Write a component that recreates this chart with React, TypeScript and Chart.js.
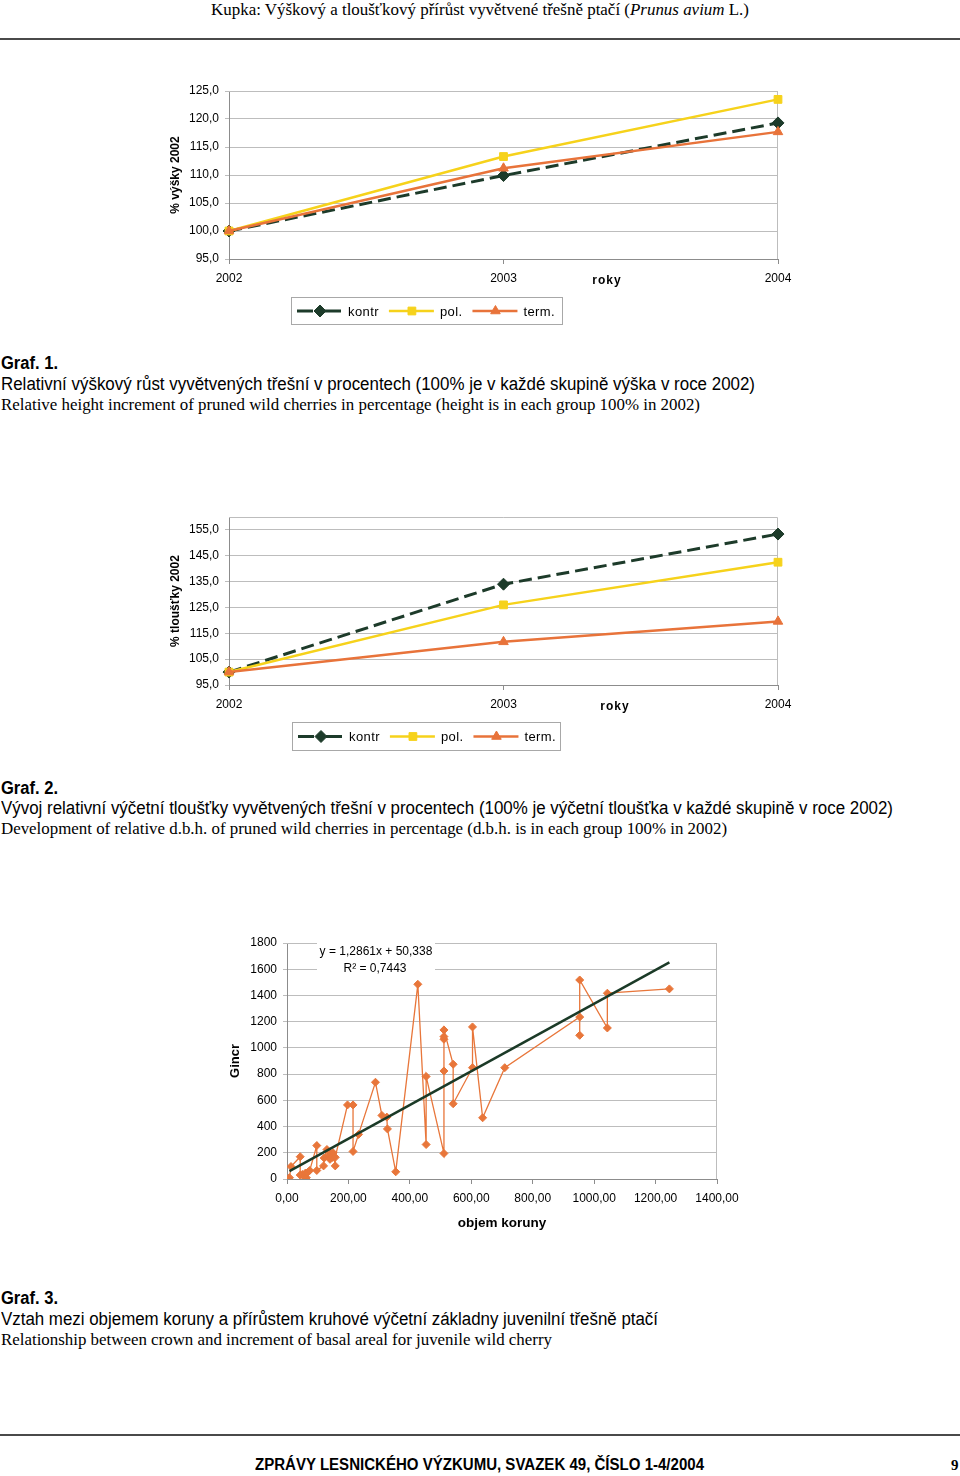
import React, { useEffect, useLayoutEffect, useRef } from 'react';
import { Chart, registerables } from 'chart.js';
import { drawPoint } from 'chart.js/helpers';

Chart.register(...registerables);

const SANS = '"Liberation Sans", Arial, Helvetica, sans-serif';
const NARROW = '"Liberation Sans Narrow", "Arial Narrow", "Liberation Sans", Arial, sans-serif';
const SERIF = '"Liberation Serif", "Times New Roman", Times, serif';

// ---------- data ----------
const years = ['2002', '2003', '2004'];
const seriesLabels = ['kontr', 'pol.', 'term.'];

const heightKontr = [100.0, 109.9, 119.3];
const heightPol = [100.0, 113.3, 123.5];
const heightTerm = [100.0, 111.2, 117.7];
const heightTicks = [95, 100, 105, 110, 115, 120, 125];

const dbhKontr = [100.0, 134.0, 153.4];
const dbhPol = [100.0, 126.0, 142.5];
const dbhTerm = [100.0, 111.7, 119.6];
const dbhTicks = [95, 105, 115, 125, 135, 145, 155];

const crownVolume = [
  8, 13, 43, 43, 50, 55, 60, 63, 67, 74,
  97, 97, 119, 121, 130, 135, 140, 143, 148, 150,
  157, 157, 197, 215, 215, 233, 288, 309, 325, 327,
  354, 426, 453, 453, 511, 511, 511, 511, 511, 541,
  541, 604, 604, 637, 709, 953, 953, 953, 1043, 1043,
  1245,
];
const gincr = [
  10, 95, 170, 30, 35, 20, 45, 10, 50, 65,
  255, 65, 100, 160, 225, 175, 150, 190, 165, 200,
  100, 165, 565, 565, 210, 340, 738, 485, 472, 382,
  55, 1485, 263, 782, 195, 824, 1066, 1086, 1137, 875,
  574, 849, 1160, 467, 849, 1235, 1096, 1518, 1152, 1417,
  1450,
];
const trendSlope = 1.2861;
const trendIntercept = 50.338;
const trendLabel = 'y = 1,2861x + 50,338';
const r2Label = 'R² = 0,7443';
const volumeTicks = [0, 200, 400, 600, 800, 1000, 1200, 1400];
const gincrTicks = [0, 200, 400, 600, 800, 1000, 1200, 1400, 1600, 1800];

// ---------- styles ----------
const KONTR = '#1d3b2a';
const POL = '#f6d21b';
const TERM = '#e8733a';
const GRID = '#bdbdbd';
const AXIS = '#8c8c8c';
const LEGEND_BORDER = '#a8a8a8';

const fmt1 = (v: number) => Number(v).toFixed(1).replace('.', ',');
const fmt2 = (v: number) => Number(v).toFixed(2).replace('.', ',');

type Area = { l: number; r: number; t: number; b: number };
type Box = { x: number; y: number; w: number; h: number };

function GrowthChart(props: {
  left: number; top: number; width: number; height: number; area: Area;
  series: number[][]; yMin: number; yMax: number; yTicks: number[]; yTitle: string;
  roky: [number, number]; legend: Box;
}) {
  const ref = useRef<HTMLCanvasElement>(null);
  useEffect(() => {
    const p = props;
    const styles = [
      { color: KONTR, width: 3, dash: [13, 6], point: 'rectRot', radius: 6 },
      { color: POL, width: 2.5, dash: [] as number[], point: 'rect', radius: 5.5 },
      { color: TERM, width: 2.5, dash: [] as number[], point: 'triangle', radius: 5.5 },
    ];
    const datasets = p.series.map((d, i) => ({
      label: seriesLabels[i],
      data: d,
      borderColor: styles[i].color,
      backgroundColor: styles[i].color,
      borderWidth: styles[i].width,
      borderDash: styles[i].dash,
      pointStyle: styles[i].point,
      pointRadius: styles[i].radius,
      pointBorderWidth: 1,
      tension: 0,
      order: 2 - i,
    }));
    const extras = {
      id: 'growthExtras',
      beforeDatasetsDraw(chart: any) {
        const { ctx, chartArea: a } = chart;
        ctx.save();
        ctx.strokeStyle = GRID;
        ctx.lineWidth = 1;
        ctx.beginPath();
        ctx.moveTo(a.left, a.top + 0.5);
        ctx.lineTo(a.right - 0.5, a.top + 0.5);
        ctx.lineTo(a.right - 0.5, a.bottom);
        ctx.stroke();
        ctx.restore();
      },
      afterDraw(chart: any) {
        const { ctx } = chart;
        ctx.save();
        ctx.fillStyle = '#000';
        ctx.font = `bold 12px ${SANS}`;
        ctx.letterSpacing = '1px';
        ctx.textAlign = 'center';
        ctx.textBaseline = 'middle';
        ctx.fillText('roky', p.roky[0], p.roky[1]);
        const L = p.legend;
        ctx.letterSpacing = '0px';
        ctx.strokeStyle = LEGEND_BORDER;
        ctx.lineWidth = 1;
        ctx.strokeRect(L.x + 0.5, L.y + 0.5, L.w, L.h);
        ctx.font = `13px ${SANS}`;
        ctx.letterSpacing = '0.4px';
        ctx.textAlign = 'left';
        let x = L.x + 6;
        const cy = L.y + L.h / 2 + 0.5;
        chart.data.datasets.forEach((ds: any) => {
          ctx.save();
          ctx.strokeStyle = ds.borderColor;
          ctx.lineWidth = ds.borderWidth;
          ctx.setLineDash(ds.borderDash && ds.borderDash.length ? [16, 12] : []);
          ctx.beginPath();
          ctx.moveTo(x, cy);
          ctx.lineTo(x + 45, cy);
          ctx.stroke();
          ctx.setLineDash([]);
          ctx.fillStyle = ds.backgroundColor;
          ctx.strokeStyle = ds.borderColor;
          ctx.lineWidth = 1;
          drawPoint(ctx, { pointStyle: ds.pointStyle, radius: ds.pointRadius, rotation: 0, borderWidth: 1 } as any, x + 23, cy);
          ctx.restore();
          x += 51;
          ctx.fillStyle = '#000';
          ctx.fillText(ds.label, x, cy + 1);
          x += ctx.measureText(ds.label).width + 10;
        });
        ctx.restore();
      },
    };
    const chart = new Chart(ref.current as HTMLCanvasElement, {
      type: 'line',
      data: { labels: years, datasets: datasets as any },
      options: {
        responsive: false,
        animation: false,
        devicePixelRatio: 1,
        layout: { padding: { left: 0, top: p.area.t, right: p.width - p.area.r, bottom: 0 } },
        plugins: { legend: { display: false }, tooltip: { enabled: false } },
        scales: {
          x: {
            type: 'category',
            offset: false,
            grid: { display: true, drawOnChartArea: false, drawTicks: true, tickLength: 5, color: AXIS },
            border: { display: true, color: AXIS, width: 1 },
            ticks: { color: '#000', font: { family: SANS, size: 12 }, padding: 7, maxRotation: 0 },
            afterFit: (s: any) => {
              s.height = p.height - p.area.b;
              s.paddingLeft = 0;
              s.paddingRight = 0;
            },
          },
          y: {
            min: p.yMin,
            max: p.yMax,
            afterBuildTicks: (s: any) => { s.ticks = p.yTicks.map((v) => ({ value: v })); },
            grid: { color: GRID, drawTicks: true, tickLength: 4 },
            border: { display: true, color: AXIS, width: 1 },
            ticks: { color: '#000', font: { family: SANS, size: 12 }, padding: 6, callback: (v: any) => fmt1(v) },
            title: { display: true, text: p.yTitle, color: '#000', font: { family: SANS, size: 12, weight: 'bold' }, padding: { top: 8, bottom: 0 } },
            afterFit: (s: any) => { s.width = p.area.l; },
          },
        },
      } as any,
      plugins: [extras],
    });
    return () => chart.destroy();
  }, []);
  return (
    <canvas
      ref={ref}
      width={props.width}
      height={props.height}
      style={{ position: 'absolute', left: props.left, top: props.top, width: props.width, height: props.height, display: 'block' }}
    />
  );
}

function GainChart(props: { left: number; top: number; width: number; height: number; area: Area }) {
  const ref = useRef<HTMLCanvasElement>(null);
  useEffect(() => {
    const p = props;
    const points = crownVolume.map((x, i) => ({ x, y: gincr[i] }));
    const xMin = Math.min(...crownVolume);
    const xMax = Math.max(...crownVolume);
    const trend = [xMin, xMax].map((x) => ({ x, y: trendSlope * x + trendIntercept }));
    const extras = {
      id: 'gainExtras',
      beforeDatasetsDraw(chart: any) {
        const { ctx, chartArea: a } = chart;
        ctx.save();
        ctx.strokeStyle = GRID;
        ctx.lineWidth = 1;
        ctx.beginPath();
        ctx.moveTo(a.left, a.top + 0.5);
        ctx.lineTo(a.right - 0.5, a.top + 0.5);
        ctx.lineTo(a.right - 0.5, a.bottom);
        ctx.stroke();
        // equation label box
        ctx.fillStyle = '#fff';
        ctx.fillRect(a.left + 30, a.top - 3, 118, 37);
        ctx.fillStyle = '#000';
        ctx.font = `12px ${SANS}`;
        ctx.textAlign = 'center';
        ctx.textBaseline = 'middle';
        ctx.fillText(trendLabel, a.left + 89, a.top + 9);
        ctx.fillText(r2Label, a.left + 88, a.top + 26);
        ctx.restore();
      },
    };
    const chart = new Chart(ref.current as HTMLCanvasElement, {
      type: 'scatter',
      data: {
        datasets: [
          {
            label: 'trend',
            data: trend,
            showLine: true,
            borderColor: '#1b3a27',
            borderWidth: 2.5,
            pointRadius: 0,
            order: 0,
          },
          {
            label: 'Gincr',
            data: points,
            showLine: true,
            borderColor: '#e8763a',
            backgroundColor: '#e8763a',
            borderWidth: 1.3,
            pointStyle: 'rectRot',
            pointRadius: 4,
            pointBorderWidth: 1,
            order: 1,
          },
        ] as any,
      },
      options: {
        responsive: false,
        animation: false,
        devicePixelRatio: 1,
        layout: { padding: { left: 0, top: p.area.t, right: p.width - p.area.r, bottom: 0 } },
        plugins: { legend: { display: false }, tooltip: { enabled: false } },
        scales: {
          x: {
            type: 'linear',
            min: volumeTicks[0],
            max: volumeTicks[volumeTicks.length - 1],
            afterBuildTicks: (s: any) => { s.ticks = volumeTicks.map((v) => ({ value: v })); },
            grid: { display: true, drawOnChartArea: false, drawTicks: true, tickLength: 5, color: AXIS },
            border: { display: true, color: AXIS, width: 1 },
            ticks: { color: '#000', font: { family: SANS, size: 12 }, padding: 7, maxRotation: 0, callback: (v: any) => fmt2(v) },
            title: { display: true, text: 'objem koruny', color: '#000', font: { family: SANS, size: 13.5, weight: 'bold' }, padding: { top: 0, bottom: 4 } },
            afterFit: (s: any) => {
              s.height = p.height - p.area.b;
              s.paddingLeft = 0;
              s.paddingRight = 0;
            },
          },
          y: {
            type: 'linear',
            min: gincrTicks[0],
            max: gincrTicks[gincrTicks.length - 1],
            afterBuildTicks: (s: any) => { s.ticks = gincrTicks.map((v) => ({ value: v })); },
            grid: { color: GRID, drawTicks: true, tickLength: 4 },
            border: { display: true, color: AXIS, width: 1 },
            ticks: { color: '#000', font: { family: SANS, size: 12 }, padding: 6, callback: (v: any) => String(v) },
            title: { display: true, text: 'Gincr', color: '#000', font: { family: SANS, size: 13, weight: 'bold' }, padding: { top: 8, bottom: 0 } },
            afterFit: (s: any) => { s.width = p.area.l; },
          },
        },
      } as any,
      plugins: [extras],
    });
    return () => chart.destroy();
  }, []);
  return (
    <canvas
      ref={ref}
      width={props.width}
      height={props.height}
      style={{ position: 'absolute', left: props.left, top: props.top, width: props.width, height: props.height, display: 'block' }}
    />
  );
}

function FitText(props: { x: number; cy: number; width?: number; lh: number; style: React.CSSProperties; children: React.ReactNode }) {
  const ref = useRef<HTMLDivElement>(null);
  useLayoutEffect(() => {
    const el = ref.current;
    if (!el || !props.width) return;
    const fit = () => {
      el.style.transform = 'none';
      const w = el.getBoundingClientRect().width;
      if (w > 0) el.style.transform = `scaleX(${(props.width as number) / w})`;
    };
    fit();
    const f = (document as any).fonts;
    if (f && f.ready) f.ready.then(fit);
  }, []);
  return (
    <div
      ref={ref}
      style={{
        position: 'absolute',
        left: props.x,
        top: props.cy - props.lh / 2,
        lineHeight: props.lh + 'px',
        whiteSpace: 'nowrap',
        transformOrigin: '0 50%',
        color: '#000',
        ...props.style,
      }}
    >
      {props.children}
    </div>
  );
}

const grafStyle: React.CSSProperties = { fontFamily: NARROW, fontSize: 18, fontWeight: 'bold' };
const czStyle: React.CSSProperties = { fontFamily: NARROW, fontSize: 18 };
const enStyle: React.CSSProperties = { fontFamily: SERIF, fontSize: 16 };

export default function App() {
  return (
    <div style={{ position: 'absolute', left: 0, top: 0, width: 960, height: 1476, background: '#fff', overflow: 'hidden' }}>
      <FitText x={211} cy={10} width={538} lh={20} style={{ fontFamily: SERIF, fontSize: 17 }}>
        Kupka: Výškový a tloušťkový přírůst vyvětvené třešně ptačí (<i>Prunus avium</i> L.)
      </FitText>
      <div style={{ position: 'absolute', left: 0, top: 38, width: 960, height: 2, background: '#4a4a4a' }} />

      <GrowthChart
        left={160} top={75} width={640} height={260}
        area={{ l: 69, r: 618, t: 16, b: 184 }}
        series={[heightKontr, heightPol, heightTerm]}
        yMin={95} yMax={125} yTicks={heightTicks} yTitle="% výšky 2002"
        roky={[447, 206]} legend={{ x: 131, y: 222, w: 271, h: 27 }}
      />

      <FitText x={1} cy={363} width={57} lh={22} style={grafStyle}>Graf. 1.</FitText>
      <FitText x={1} cy={384} width={754} lh={22} style={czStyle}>
        Relativní výškový růst vyvětvených třešní v procentech (100% je v každé skupině výška v roce 2002)
      </FitText>
      <FitText x={1} cy={405} width={699} lh={20} style={enStyle}>
        Relative height increment of pruned wild cherries in percentage (height is in each group 100% in 2002)
      </FitText>

      <GrowthChart
        left={160} top={500} width={640} height={260}
        area={{ l: 69, r: 618, t: 17, b: 185 }}
        series={[dbhKontr, dbhPol, dbhTerm]}
        yMin={95} yMax={160} yTicks={dbhTicks} yTitle="% tloušťky 2002"
        roky={[455, 207]} legend={{ x: 132, y: 222, w: 268, h: 28 }}
      />

      <FitText x={1} cy={788} width={57} lh={22} style={grafStyle}>Graf. 2.</FitText>
      <FitText x={1} cy={808} width={892} lh={22} style={czStyle}>
        Vývoj relativní výčetní tloušťky vyvětvených třešní v procentech (100% je výčetní tloušťka v každé skupině v roce 2002)
      </FitText>
      <FitText x={1} cy={829} width={726} lh={20} style={enStyle}>
        Development of relative d.b.h. of pruned wild cherries in percentage (d.b.h. is in each group 100% in 2002)
      </FitText>

      <GainChart left={220} top={925} width={520} height={310} area={{ l: 67, r: 497, t: 18, b: 254 }} />

      <FitText x={1} cy={1298} width={57} lh={22} style={grafStyle}>Graf. 3.</FitText>
      <FitText x={1} cy={1319} width={657} lh={22} style={czStyle}>
        Vztah mezi objemem koruny a přírůstem kruhové výčetní základny juvenilní třešně ptačí
      </FitText>
      <FitText x={1} cy={1340} width={551} lh={20} style={enStyle}>
        Relationship between crown and increment of basal areal for juvenile wild cherry
      </FitText>

      <div style={{ position: 'absolute', left: 0, top: 1434, width: 960, height: 2, background: '#4a4a4a' }} />
      <FitText x={255} cy={1465} width={449} lh={20} style={{ fontFamily: NARROW, fontSize: 16, fontWeight: 'bold' }}>
        ZPRÁVY LESNICKÉHO VÝZKUMU, SVAZEK 49, ČÍSLO 1-4/2004
      </FitText>
      <FitText x={951} cy={1465} lh={20} style={{ fontFamily: SERIF, fontSize: 15, fontWeight: 'bold' }}>9</FitText>
    </div>
  );
}
